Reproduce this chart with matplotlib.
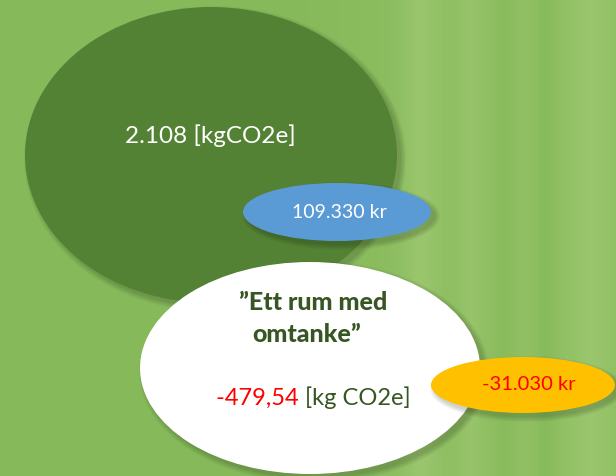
import numpy as np
import matplotlib.pyplot as plt
from matplotlib.patches import Ellipse
from matplotlib.colors import to_rgb

# data
co2_total = "2.108"
co2_unit = "[kgCO2e]"
cost_total = "109.330 kr"
project_title = ["\u201dEtt rum med", "omtanke\u201d"]
co2_saved = "-479,54"
co2_saved_unit = "[kg CO2e]"
cost_saved = "-31.030 kr"

W, H = 616, 476
fig = plt.figure(figsize=(W / 100, H / 100), dpi=100)
ax = fig.add_axes([0, 0, 1, 1])
ax.set_xlim(0, W)
ax.set_ylim(H, 0)
ax.axis("off")

# bakgrund: grön gradient med ljusare ränder till höger
left = np.array(to_rgb("#86b95a"))
right = np.array(to_rgb("#92c165"))
xs = np.linspace(0, 1, W)
t = np.clip((xs - 0.45) / 0.4, 0, 1)
bg = left[None, :] * (1 - t[:, None]) + right[None, :] * t[:, None]
ränder = [(420, 18, 0.05), (470, 10, 0.03), (505, 14, -0.03), (545, 12, -0.04), (590, 16, 0.03)]
for cx, w, amp in ränder:
    bg += amp * np.exp(-((np.arange(W) - cx) / w) ** 2)[:, None] * np.array([1, 0.6, 1])
bg = np.clip(bg, 0, 1)
img = np.repeat(bg[None, :, :], H, axis=0)
ax.imshow(img, extent=[0, W, H, 0], aspect="auto", zorder=0)


def ellips(cx, cy, a, b, color, z):
    # mjuk skugga nedåt höger
    for i in range(6):
        ax.add_patch(Ellipse((cx + 4, cy + 4), 2 * a + 10 - 2 * i, 2 * b + 10 - 2 * i,
                             color="black", alpha=0.03, lw=0, zorder=z - 0.5))
    ax.add_patch(Ellipse((cx, cy), 2 * a, 2 * b, color=color, lw=0, zorder=z))


ellips(211, 155, 186, 148, "#548235", 2)
ellips(337, 212, 94, 29, "#5b9bd5", 3)
ellips(310, 368, 170, 106, "white", 4)
ellips(523, 385, 92, 28, "#ffc000", 5)

font = ["Lato", "DejaVu Sans"]
mörkgrön = "#375623"

ax.text(210, 136, f"{co2_total} {co2_unit}", color="white", fontsize=17.5,
        family=font, ha="center", va="center", zorder=10)
ax.text(339, 213, cost_total, color="white", fontsize=14,
        family=font, ha="center", va="center", zorder=10)
ax.text(313, 303, project_title[0], color=mörkgrön, fontsize=18, fontweight="black",
        family=font, ha="center", va="center", zorder=10)
ax.text(307, 335, project_title[1], color=mörkgrön, fontsize=18, fontweight="black",
        family=font, ha="center", va="center", zorder=10)

ax.text(305, 398, co2_saved + " ", color="red", fontsize=17,
        family=font, ha="right", va="center", zorder=10)
ax.text(305, 398, co2_saved_unit, color=mörkgrön, fontsize=17,
        family=font, ha="left", va="center", zorder=10)
ax.text(529, 385, cost_saved, color="red", fontsize=14.5,
        family=font, ha="center", va="center", zorder=10)

fig.savefig("out.png", dpi=100)
